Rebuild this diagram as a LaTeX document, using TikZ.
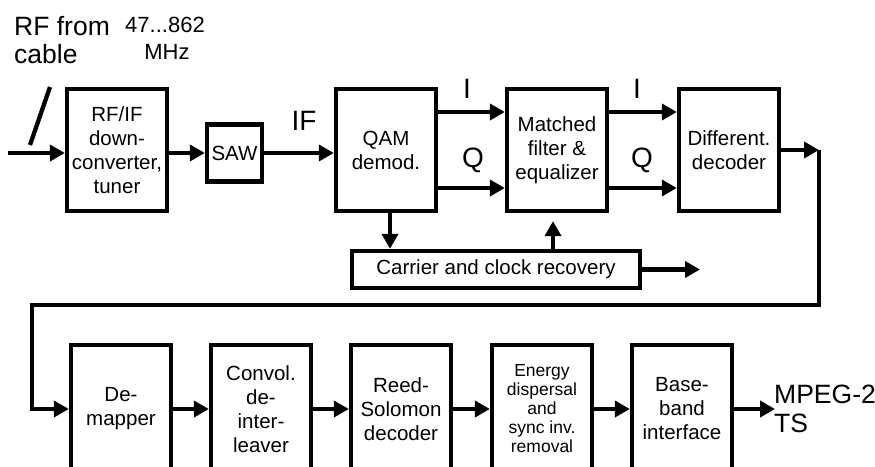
\documentclass[tikz,border=0pt]{standalone}
\usepackage{fontspec}
\setmainfont{Liberation Sans}
\usetikzlibrary{arrows.meta,calc}
\begin{document}
\begin{tikzpicture}[x=1pt,y=-1pt,
  blk/.style={draw, line width=4.3pt, minimum width=100pt, minimum height=122pt,
    align=center, inner sep=0pt, font=\fontsize{20.5pt}{24pt}\selectfont},
  smalltext/.style={font=\fontsize{17.5pt}{19pt}\selectfont},
  ln/.style={line width=4.3pt},
  arr/.style={line width=4.3pt, -{Triangle[length=15pt,width=16pt]}},
  labA/.style={inner sep=0pt, font=\fontsize{26.5pt}{30pt}\selectfont},
  labB/.style={inner sep=0pt, font=\fontsize{22pt}{26pt}\selectfont},
  labC/.style={inner sep=0pt, font=\fontsize{28pt}{32pt}\selectfont}]
\useasboundingbox (0,0) rectangle (875,466);
\fill[white] (0,0) rectangle (875,466);
\clip (0,0) rectangle (875,466);

% top row
\node[blk] (RF) at (117,150) {RF/IF\\down-\\converter,\\tuner};
\node[blk, minimum width=55pt, minimum height=57pt] (SAW) at (234.5,153) {SAW};
\node[blk] (QAM) at (386,150) {QAM\\demod.};
\node[blk] (MF) at (557,150) {Matched\\filter \&\\equalizer};
\node[blk] (DD) at (729,150) {Different.\\decoder};
\node[blk, minimum width=288pt, minimum height=37pt] (CR) at (496,269.5) {Carrier and clock recovery};

% bottom row
\node[blk, minimum height=128pt] (DM) at (121,409) {De-\\mapper};
\node[blk, minimum height=128pt] (CV) at (261,409) {Convol.\\de-\\inter-\\leaver};
\node[blk, minimum height=128pt] (RS) at (401,409) {Reed-\\Solomon\\decoder};
\node[blk, minimum height=128pt, smalltext] (ED) at (542,409) {Energy\\dispersal\\and\\sync inv.\\removal};
\node[blk, minimum height=128pt] (BB) at (682,409) {Base-\\band\\interface};

% labels
\node[labA, anchor=base west] (rffrom) at (14,35) {RF from};
\node[labA, anchor=base west] (cable) at (14,63) {cable};
\node[labB, anchor=base] (freq) at (165,32) {47...862};
\node[labB, anchor=base] (mhz) at (167,59) {MHz};
\node[labC, anchor=base] (IF) at (304,130) {IF};
\node[labC, anchor=base] (I1) at (467,98) {I};
\node[labC, anchor=base] (Q1) at (473,167) {Q};
\node[labC, anchor=base] (I2) at (637,98) {I};
\node[labC, anchor=base] (Q2) at (642,167) {Q};
\node[labA, anchor=base west] (mpeg) at (774,403) {MPEG-2};
\node[labA, anchor=base west] (ts) at (774,432) {TS};

% coordinates
\coordinate (in) at (8,153);
\coordinate (s1) at (50,87);
\coordinate (s2) at (30,145);
\coordinate (c1) at (819,150);
\coordinate (turnR) at (819,305);
\coordinate (turnL) at (32,305);
\coordinate (co) at (700,269.5);
\coordinate (out) at (775,409);

% connectors
\draw[ln] (s1) -- (s2);
\draw[arr] (in) -- ([yshift=-3pt]RF.west);
\draw[arr] ([yshift=-3pt]RF.east) -- (SAW.west);
\draw[arr] (SAW.east) -- ([yshift=-3pt]QAM.west);
\draw[arr] ([yshift=38pt]QAM.east) -- ([yshift=38pt]MF.west);
\draw[arr] ([yshift=-38pt]QAM.east) -- ([yshift=-38pt]MF.west);
\draw[arr] ([yshift=38pt]MF.east) -- ([yshift=38pt]DD.west);
\draw[arr] ([yshift=-38pt]MF.east) -- ([yshift=-38pt]DD.west);
\draw[arr] ($(QAM.south)+(4,0)$) -- ($(QAM.south |- CR.north)+(4,0)$);
\draw[arr, shorten >=8pt] ($(MF.south |- CR.north)+(-4,0)$) -- ($(MF.south)+(-4,0)$);
\draw[arr] (CR.east) -- (co);
\draw[arr] (DD.east) -- (c1);
\draw[arr] (c1) -- (turnR) -- (turnL) |- (DM.west);
\draw[arr] (DM.east) -- (CV.west);
\draw[arr] (CV.east) -- (RS.west);
\draw[arr] (RS.east) -- (ED.west);
\draw[arr] (ED.east) -- (BB.west);
\draw[arr] (BB.east) -- (out);
\end{tikzpicture}
\end{document}
